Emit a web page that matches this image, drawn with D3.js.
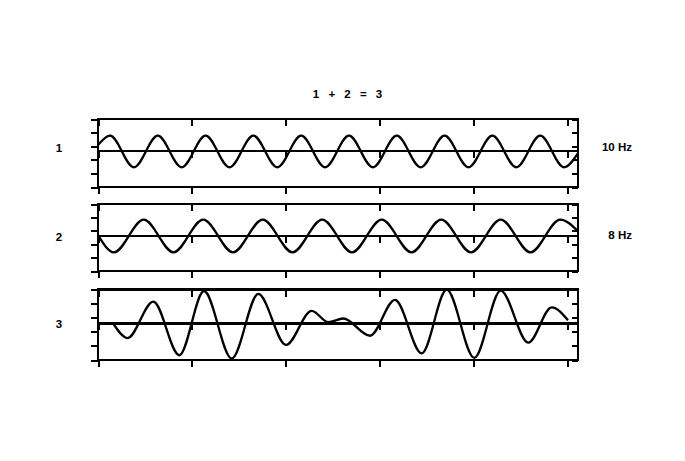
<!DOCTYPE html>
<html>
<head>
<meta charset="utf-8">
<script src="https://cdn.jsdelivr.net/npm/d3@7"></script>
<style>
  body { margin: 0; background: #fff; }
  svg { display: block; }
  text { font-family: "Liberation Sans", Arial, sans-serif; font-weight: bold; font-size: 11.5px; fill: #000; }
</style>
</head>
<body>
<div id="showBox"></div>
<script>
// time (s) of the extrema and end points
const wave10T = [0, 0.0255, 0.0764, 0.1272, 0.1781, 0.2289, 0.2798, 0.3306, 0.3815, 0.4323, 0.4832,
    0.5340, 0.5849, 0.6357, 0.6866, 0.7374, 0.7883, 0.8391, 0.8900, 0.9409, 0.9917, 1.0213]
const wave10V = [0.4, 1, -1, 1, -1, 1, -1, 1, -1, 1, -1, 1, -1, 1, -1, 1, -1, 1, -1, 1, -1, -0.1]

const wave8T = [0, 0.0340, 0.0973, 0.1606, 0.2239, 0.2872, 0.3505, 0.4138, 0.4771, 0.5404, 0.6037,
    0.6670, 0.7303, 0.7936, 0.8569, 0.9202, 0.9835, 1.0213]
const wave8V = [0.05, -1.05, 1.05, -1.05, 1.05, -1.05, 1.05, -1.05, 1.05, -1.05, 1.05,
    -1.05, 1.05, -1.05, 1.05, -1.05, 1.05, 0.3]

const sumT = [0.0319, 0.0628, 0.1177, 0.1730, 0.2255, 0.2845, 0.3411, 0.4000, 0.4547, 0.4900,
    0.5219, 0.5787, 0.6319, 0.6887, 0.7419, 0.8006, 0.8568, 0.9155, 0.9653, 1.0]
const sumV = [0, -0.91, 1.31, -1.96, 1.96, -2.16, 1.78, -1.33, 0.75, 0.06,
    0.28, -0.77, 1.42, -1.85, 2.04, -2.12, 1.98, -1.19, 0.96, 0.17]

const panelNames = ["1", "2", "3"]
const panelFreq = ["10 Hz", "8 Hz", ""]
const xTicks = [0, 0.2, 0.4, 0.6, 0.8, 1.0]
const title = "1 + 2 = 3"

const series = [
    d3.zip(wave10T, wave10V),
    d3.zip(wave8T, wave8V),
    d3.zip(sumT, sumV)
]

const width = 685, height = 461
const left = 98, right = 578
const panelTop = [119, 204, 289.5]
const panelH = [68, 67, 70.5]
const yDomain = [-2.25, 2.05]

const svg = d3.select("#showBox").append("svg")
    .attr("width", width)
    .attr("height", height)

const x = d3.scaleLinear().domain([0, 1.0213]).range([left, right])

svg.append("text")
    .attr("x", 349)
    .attr("y", 98)
    .attr("text-anchor", "middle")
    .style("letter-spacing", "3px")
    .text(title)

series.forEach((data, i) => {
    const top = panelTop[i], bottom = top + panelH[i]
    const y = d3.scaleLinear().domain(yDomain).range([bottom, top])
    const yTicks = d3.range(6).map(k => yDomain[0] + k * (yDomain[1] - yDomain[0]) / 5)
    const g = svg.append("g")

    const axes = [
        [d3.axisLeft(y).tickValues(yTicks).tickSize(7), `translate(${left},0)`],
        [d3.axisRight(y).tickValues(yTicks).tickSize(-6), `translate(${right},0)`],
        [d3.axisTop(x).tickValues(xTicks).tickSize(-7), `translate(0,${top})`],
        [d3.axisBottom(x).tickValues(xTicks).tickSize(7), `translate(0,${bottom})`],
        [d3.axisBottom(x).tickValues(xTicks).tickSize(7), `translate(0,${y(0)})`]
    ]
    axes.forEach(([ax, tr]) => {
        const a = g.append("g").attr("transform", tr)
            .call(ax.tickFormat("").tickSizeOuter(0))
        a.select(".domain").remove()
        a.selectAll(".tick line").attr("stroke", "#000").attr("stroke-width", 2)
            .attr("shape-rendering", "crispEdges")
    })

    // frame
    g.append("rect")
        .attr("x", left)
        .attr("y", top)
        .attr("width", right - left)
        .attr("height", bottom - top)
        .attr("fill", "none")
        .attr("stroke", "#000")
        .attr("stroke-width", 2.5)
        .attr("shape-rendering", "crispEdges")

    // zero line
    g.append("line")
        .attr("x1", left)
        .attr("x2", right)
        .attr("y1", y(0))
        .attr("y2", y(0))
        .attr("stroke", "#000")
        .attr("stroke-width", i === 2 ? 3 : 2)
        .attr("shape-rendering", "crispEdges")

    g.append("path")
        .datum(data)
        .attr("fill", "none")
        .attr("stroke", "#000")
        .attr("stroke-width", 2.3)
        .attr("d", d3.line()
            .x(d => x(d[0]))
            .y(d => y(d[1]))
            .curve(d3.curveMonotoneX))

    svg.append("text")
        .attr("x", 59)
        .attr("y", y(0) + (i === 0 ? -3 : 1))
        .attr("dy", "0.35em")
        .attr("text-anchor", "middle")
        .text(panelNames[i])

    if (panelFreq[i]) {
        svg.append("text")
            .attr("x", 632)
            .attr("y", y(0) + (i === 0 ? -4 : -1))
            .attr("dy", "0.35em")
            .attr("text-anchor", "end")
            .text(panelFreq[i])
    }
})
</script>
</body>
</html>
